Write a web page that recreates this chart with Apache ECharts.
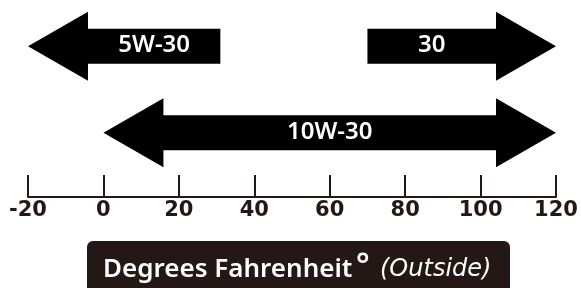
<!DOCTYPE html>
<html>
<head>
<meta charset="utf-8">
<script src="https://cdn.jsdelivr.net/npm/echarts@6/dist/echarts.min.js"></script>
<style>
html, body { margin: 0; padding: 0; background: #fff; }
#oilChart { width: 581px; height: 288px; }
</style>
</head>
<body>
<div id="oilChart"></div>
<script>
// oil grades and the outside temperature range (°F) each one covers
var oilGrades = ['5W-30', '30', '10W-30'];
var rangeFrom = [-20, 70, 0];
var rangeTo = [31, 120, 120];
var gradeRow = [1, 1, 0];        // 0 = lower row, 1 = upper row
var headLeft = [1, 0, 1];        // arrow head on the cold end
var headRight = [0, 1, 1];       // arrow head on the hot end
var rowNames = ['lower', 'upper'];
var tempTicks = [-20, 0, 20, 40, 60, 80, 100, 120];
var axisTitle = 'Degrees Fahrenheit';
var axisNote = '(Outside)';

var ink = '#231815';

var chartDiv = document.getElementById('oilChart');
var chart = echarts.init(chartDiv);

function drawArrow(params, api) {
	var a = api.coord([api.value(0), api.value(2)]);
	var b = api.coord([api.value(1), api.value(2)]);
	var cy = a[1];
	var left = a[0], right = b[0];
	var headLen = 60, headHalf = 34.5, shaftHalf = 17.5;
	var hasL = api.value(3) === 1, hasR = api.value(4) === 1;
	var sl = hasL ? left + headLen : left;
	var sr = hasR ? right - headLen : right;
	var pts = [];
	if (hasL) {
		pts.push([left, cy], [sl, cy - headHalf], [sl, cy - shaftHalf]);
	} else {
		pts.push([left, cy - shaftHalf]);
	}
	if (hasR) {
		pts.push([sr, cy - shaftHalf], [sr, cy - headHalf], [right, cy], [sr, cy + headHalf], [sr, cy + shaftHalf]);
	} else {
		pts.push([right, cy - shaftHalf], [right, cy + shaftHalf]);
	}
	if (hasL) {
		pts.push([sl, cy + shaftHalf], [sl, cy + headHalf]);
	} else {
		pts.push([left, cy + shaftHalf]);
	}
	return {
		type: 'group',
		children: [{
			type: 'polygon',
			shape: { points: pts },
			style: { fill: '#000' }
		}, {
			type: 'text',
			style: {
				x: (sl + sr) / 2,
				y: cy - 1,
				text: oilGrades[params.dataIndex],
				fill: '#fff',
				font: '600 24px "Noto Sans"',
				align: 'center',
				verticalAlign: 'middle'
			}
		}]
	};
}

var option = {
	animation: false,
	title: {
		text: '{t|' + axisTitle + '}{d|°}{n|' + axisNote + '}',
		left: 87,
		top: 243,
		padding: [10, 17, 14, 16],
		backgroundColor: ink,
		borderRadius: [6, 6, 0, 0],
		textStyle: {
			rich: {
				t: { fontFamily: 'Noto Sans', fontSize: 26, fontWeight: 600, color: '#fff', lineHeight: 34, width: 251, align: 'left' },
				d: { fontFamily: 'Noto Sans', fontSize: 32, fontWeight: 600, color: '#fff', lineHeight: 34, width: 24, align: 'left', padding: [0, 0, 6, 2] },
				n: { fontFamily: 'DejaVu Sans', fontSize: 24, fontStyle: 'italic', fontWeight: 200, color: '#fff', lineHeight: 34, width: 113, align: 'left' }
			}
		}
	},
	grid: {
		left: 28,
		right: 25,
		top: 3,
		bottom: 112
	},
	xAxis: {
		type: 'value',
		min: tempTicks[0],
		max: tempTicks[tempTicks.length - 1],
		interval: tempTicks[1] - tempTicks[0],
		offset: 21,
		axisLine: { show: true, lineStyle: { color: ink, width: 2 } },
		axisTick: { show: true, inside: true, length: 22, lineStyle: { color: ink, width: 2 } },
		axisLabel: {
			margin: 3,
			color: ink,
			fontFamily: 'DejaVu Sans',
			fontSize: 21,
			fontWeight: 'bold'
		},
		splitLine: { show: false }
	},
	yAxis: {
		type: 'category',
		data: rowNames,
		show: false
	},
	series: [{
		type: 'custom',
		renderItem: drawArrow,
		clip: false,
		encode: { x: [0, 1], y: 2 },
		data: oilGrades.map(function (g, i) {
			return { name: g, value: [rangeFrom[i], rangeTo[i], gradeRow[i], headLeft[i], headRight[i]] };
		})
	}]
};

if (option && typeof option === 'object') {
	chart.setOption(option, true);
}
</script>
</body>
</html>
